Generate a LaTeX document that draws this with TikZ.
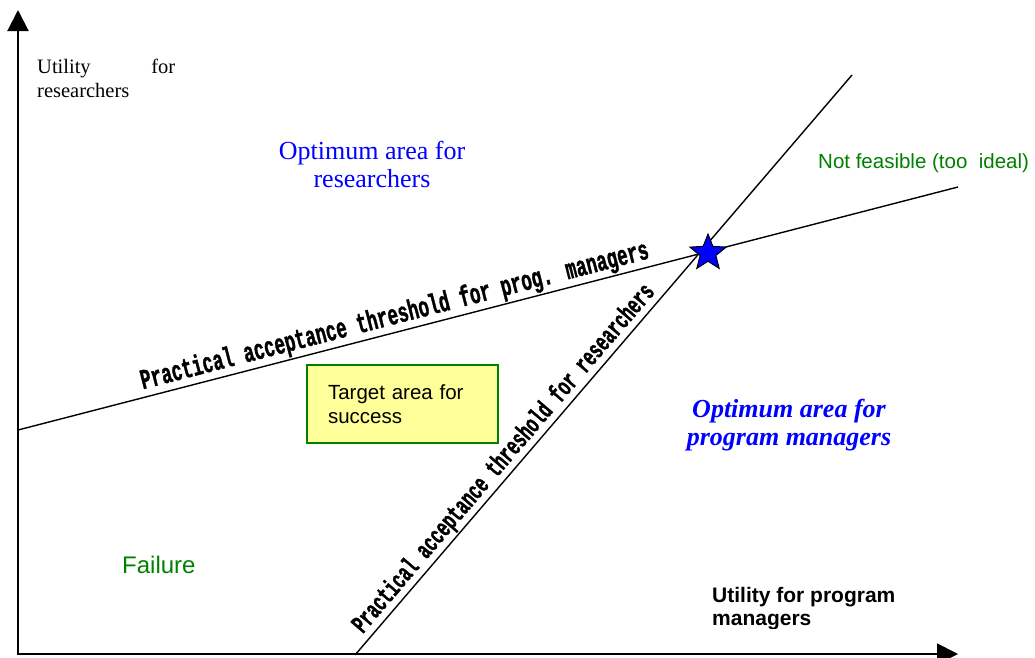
\documentclass[tikz,border=0pt]{standalone}
\usepackage{fontspec}
\setmainfont{Liberation Serif}
\setsansfont{Liberation Sans}
\newfontfamily\threshfont{Liberation Mono}[BoldFeatures={FakeBold=1.6}]
\usetikzlibrary{arrows.meta,shapes.geometric}
\definecolor{optblue}{RGB}{0,0,255}
\definecolor{darkgreen}{RGB}{0,128,0}
\definecolor{paleyellow}{RGB}{255,255,153}

\begin{document}
\begin{tikzpicture}[x=1pt,y=-1pt,
  axes/.style={line width=2pt,
    {Triangle[length=21pt,width=21pt]}-{Triangle[length=21pt,width=21pt]}},
  threshold/.style={line width=1.4pt},
  threshlabel/.style={sloped, above=1.5pt, inner sep=0pt},
  plain/.style={inner sep=0pt},
  targetbox/.style={draw=darkgreen, line width=2pt, fill=paleyellow,
    minimum width=191pt, minimum height=78pt, inner xsep=21pt,
    text width=149pt, align=left, anchor=north west},
]
\useasboundingbox (0,0) rectangle (1035,657);

% axes
\coordinate (O) at (18,654);
\coordinate (ytip) at (18,10);
\coordinate (xtip) at (958,654);
\draw[axes] (ytip) -- (O) -- (xtip);

% acceptance thresholds
\coordinate (pmA) at (18,430);
\coordinate (pmB) at (958,187);
\coordinate (rsA) at (355,655);
\coordinate (rsB) at (852,75);
\draw[threshold] (pmA) -- node[threshlabel, pos=0.405]
  {\threshfont\bfseries\fontsize{17.7}{20}\selectfont
   \scalebox{1}[1.6]{Practical acceptance threshold for prog. managers}} (pmB);
\draw[threshold] (rsA) -- node[threshlabel, pos=0.322]
  {\threshfont\bfseries\fontsize{16.3}{19}\selectfont
   \scalebox{1}[1.6]{Practical acceptance threshold for researchers}} (rsB);

% meeting point of the two thresholds
\node[star, star points=5, star point ratio=2.3, minimum size=38pt,
  inner sep=0pt, draw=black, line width=1pt, fill=optblue] (best) at (708,253) {};

% axis titles (multi-line nodes are placed by the baseline of their last line)
\node[plain, anchor=base west, font=\fontsize{20.5}{24}\selectfont] (ylab) at (37,73)
  {\parbox[t]{138pt}{Utility for researchers}};
\begin{scope}
  \clip (700,570) rectangle (1035,628);
  \node[plain, anchor=base west, align=left,
    font=\sffamily\bfseries\fontsize{21}{22.5}\selectfont] (xlab) at (712,625)
    {Utility for program\\managers};
\end{scope}

% regions
\node[plain, anchor=base, align=center, text=optblue,
  font=\fontsize{26}{28}\selectfont] (optr) at (372,187)
  {Optimum area for\\researchers};
\node[plain, anchor=base, align=center, text=optblue,
  font=\bfseries\itshape\fontsize{26}{28}\selectfont] (optpm) at (789,445)
  {Optimum area for\\program managers};
\node[plain, anchor=base west, text=darkgreen,
  font=\sffamily\fontsize{20.5}{24}\selectfont] (notf) at (818,168)
  {Not feasible (too\ \ ideal)};
\node[plain, anchor=base west, text=darkgreen,
  font=\sffamily\fontsize{24}{28}\selectfont] (fail) at (122,573)
  {Failure};
\node[targetbox, font=\sffamily\fontsize{20.5}{23.5}\selectfont] (target) at (306,364)
  {Target area for\\success};
\end{tikzpicture}
\end{document}
